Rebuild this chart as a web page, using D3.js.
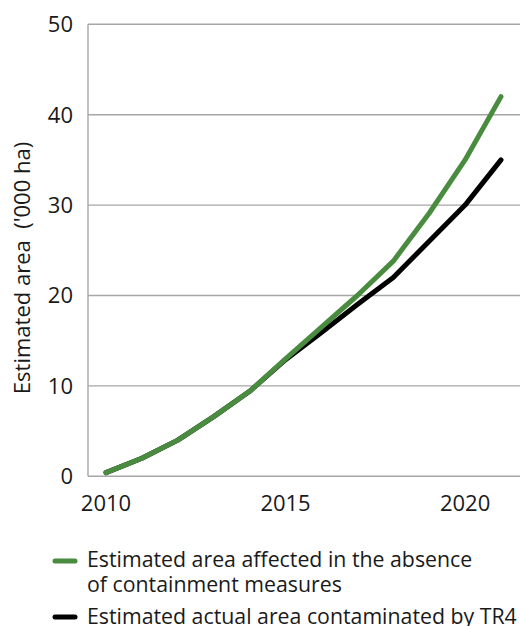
<!DOCTYPE html>
<html><head><meta charset="utf-8">
<script src="https://cdn.jsdelivr.net/npm/d3@7"></script>
<style>
html,body{margin:0;padding:0;background:#fff;}
svg{display:block;font-family:"Open Sans",sans-serif;}
</style></head>
<body><svg id="c" width="520" height="626"></svg>
<script>
const years = [2010,2011,2012,2013,2014,2015,2016,2017,2018,2019,2020,2021];
const absence = [0.4,2.0,4.0,6.6,9.4,13.0,16.5,20.0,23.8,29.1,35.0,42.0];
const actual  = [0.4,2.0,4.0,6.6,9.4,12.9,15.9,19.0,22.0,26.0,30.0,35.0];
const yTicks = [0,10,20,30,40,50];
const xTicks = [2010,2015,2020];
const seriesNames = ["Estimated area affected in the absence","of containment measures"];
const seriesNames2 = ["Estimated actual area contaminated by TR4"];
const yLabel = "Estimated area  ('000 ha)";

const svg = d3.select("#c");
const x = d3.scaleLinear().domain([2010,2021]).range([106,501]);
const y = d3.scaleLinear().domain([0,50]).range([476.3,24.3]);

// gridlines
svg.append("g").selectAll("line").data(yTicks).join("line")
  .attr("x1",88).attr("x2",520).attr("y1",d=>y(d)).attr("y2",d=>y(d))
  .attr("stroke","#a6a6a6").attr("stroke-width",1.4);
svg.append("line").attr("x1",88).attr("x2",88).attr("y1",y(50)).attr("y2",y(0))
  .attr("stroke","#a6a6a6").attr("stroke-width",1.4);

// y tick labels
svg.append("g").selectAll("text").data(yTicks).join("text")
  .attr("x",73).attr("y",d=>y(d)).attr("dy","0.36em").attr("text-anchor","end")
  .attr("font-size",22).attr("fill","#1a1a1a").text(d=>d);
// x tick labels
svg.append("g").selectAll("text").data(xTicks).join("text")
  .attr("x",d=>x(d)).attr("y",511).attr("text-anchor","middle")
  .attr("font-size",22).attr("fill","#1a1a1a").text(d=>d);

// y label
svg.append("text").attr("transform","translate(30,268) rotate(-90)")
  .attr("text-anchor","middle").attr("font-size",22).attr("fill","#1a1a1a")
  .style("white-space","pre").text(yLabel);

const line = d3.line().x((d,i)=>x(years[i])).y(d=>y(d));
svg.append("path").datum(actual).attr("d",line).attr("fill","none")
  .attr("stroke","#000").attr("stroke-width",5).attr("stroke-linecap","round").attr("stroke-linejoin","round");
svg.append("path").datum(absence).attr("d",line).attr("fill","none")
  .attr("stroke","#4a8c3f").attr("stroke-width",5).attr("stroke-linecap","round").attr("stroke-linejoin","round");

// legend
const lg = svg.append("g");
lg.append("line").attr("x1",55).attr("x2",75).attr("y1",561).attr("y2",561)
  .attr("stroke","#4a8c3f").attr("stroke-width",5).attr("stroke-linecap","round");
lg.append("line").attr("x1",55).attr("x2",75).attr("y1",617).attr("y2",617)
  .attr("stroke","#000").attr("stroke-width",5).attr("stroke-linecap","round");
lg.selectAll("text.a").data(seriesNames).join("text").attr("class","a")
  .attr("x",87).attr("y",(d,i)=>567.3+i*24.4).attr("font-size",21.3).attr("fill","#1a1a1a").text(d=>d);
lg.selectAll("text.b").data(seriesNames2).join("text").attr("class","b")
  .attr("x",87).attr("y",623.5).attr("font-size",21.3).attr("fill","#1a1a1a").text(d=>d);
</script></body></html>
